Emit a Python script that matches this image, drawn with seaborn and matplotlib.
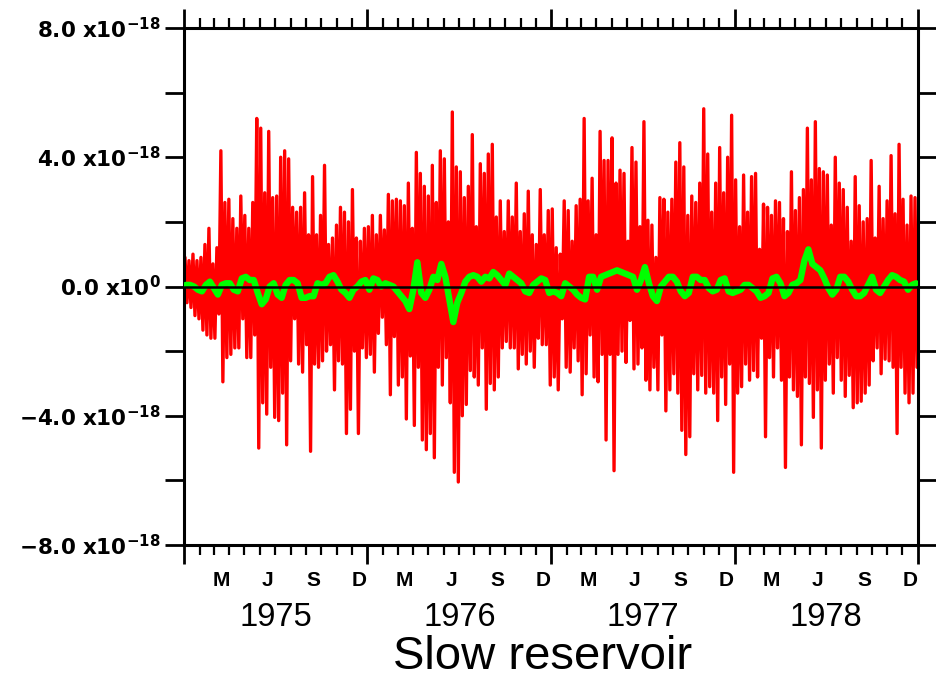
import numpy as np
import pandas as pd
import matplotlib
matplotlib.use("Agg")
import matplotlib.pyplot as plt
import matplotlib.dates as mdates
import matplotlib.transforms as mtransforms
from matplotlib.ticker import FixedLocator, FuncFormatter, NullFormatter
import seaborn as sns

# ---------------- data (units of 1e-18) ----------------
years = [1975, 1976, 1977, 1978]

# red: daily series, summarised as one peak and one trough per ~8-day block (46 blocks / year)
red_hi_1975 = [0.9, 0.8, 1.0, 0.8, 0.9, 1.3, 1.8, 0.7, 1.2, 4.2, 2.6, 2.7, 2.1, 1.8, 2.8, 2.2,
               1.8, 2.6, 5.2, 4.9, 2.9, 4.8, 2.75, 2.8, 4.0, 4.2, 3.95, 2.45, 2.3, 2.45, 2.9, 1.6,
               3.4, 1.6, 2.2, 3.75, 1.3, 1.5, 1.9, 2.45, 2.3, 2.0, 3.0, 1.5, 1.4, 1.8]
red_lo_1975 = [-0.5, -0.65, -0.9, -1.0, -1.35, -1.5, -1.6, -1.6, -0.85, -2.95, -2.2, -2.1, -1.9,
               -1.9, -1.0, -2.2, -2.2, -1.5, -5.0, -3.6, -3.95, -2.5, -4.05, -4.15, -3.3, -4.9,
               -2.3, -1.0, -2.4, -2.65, -1.8, -5.1, -2.4, -2.5, -2.3, -2.0, -1.8, -3.2, -2.3,
               -2.4, -4.55, -3.8, -2.0, -4.55, -1.9, -2.2]
red_hi_1976 = [1.85, 2.2, 1.6, 2.2, 1.75, 2.85, 2.65, 2.7, 2.65, 2.5, 3.2, 1.8, 4.15, 3.5, 3.1,
               2.8, 3.75, 2.6, 4.2, 3.95, 2.0, 5.4, 3.7, 3.55, 2.75, 3.1, 4.7, 1.85, 3.8, 3.5,
               4.1, 4.4, 2.15, 2.65, 1.7, 2.65, 2.15, 3.2, 1.7, 2.25, 2.95, 1.6, 1.3, 3.0, 1.6, 2.35]
red_lo_1976 = [-2.1, -2.65, -1.45, -0.95, -1.8, -3.35, -1.55, -3.05, -2.8, -4.1, -2.15, -4.3,
               -2.5, -4.75, -5.05, -4.55, -5.3, -2.5, -3.05, -2.2, -3.6, -5.75, -6.05, -4.0,
               -3.65, -2.6, -2.8, -3.05, -1.9, -3.8, -3.0, -3.2, -2.8, -1.9, -1.7, -1.9, -1.9,
               -2.55, -2.1, -2.4, -2.0, -2.5, -1.6, -1.8, -1.8, -3.05]
red_hi_1977 = [2.4, 1.2, 1.0, 2.65, 2.35, 1.4, 2.5, 2.7, 5.2, 2.65, 3.35, 1.6, 4.8, 3.9, 3.9,
               4.6, 3.2, 3.6, 3.5, 1.4, 4.3, 3.85, 1.85, 5.1, 2.05, 1.9, 0.9, 2.75, 2.7, 2.3,
               2.7, 3.85, 4.45, 3.7, 2.2, 2.8, 2.6, 3.2, 5.5, 4.1, 2.3, 3.2, 4.3, 2.9, 4.0, 5.3]
red_lo_1977 = [-2.8, -3.2, -1.0, -2.5, -2.65, -1.9, -2.3, -3.35, -2.7, -1.5, -2.8, -2.95, -2.1,
               -4.75, -2.1, -5.7, -2.1, -2.0, -2.35, -1.05, -2.55, -2.4, -1.9, -2.9, -3.2, -2.5,
               -3.2, -1.5, -3.85, -3.2, -2.7, -3.3, -4.45, -5.2, -4.65, -2.7, -3.2, -2.75, -3.3,
               -3.1, -3.3, -4.15, -2.8, -3.65, -2.4, -5.75]
red_hi_1978 = [3.3, 1.85, 3.45, 2.3, 3.4, 3.5, 1.15, 2.55, 2.45, 2.2, 2.65, 2.6, 2.1, 1.7, 3.55,
               2.35, 2.75, 3.0, 4.9, 3.3, 5.1, 3.65, 3.55, 3.45, 1.9, 4.0, 3.2, 3.0, 2.45, 1.4,
               3.4, 2.5, 2.0, 2.1, 3.9, 1.5, 3.1, 2.1, 2.65, 4.05, 2.25, 4.4, 2.7, 1.9, 2.8, 2.75]
red_lo_1978 = [-3.3, -3.1, -2.4, -2.9, -2.6, -2.8, -1.6, -4.65, -2.2, -2.8, -1.9, -2.9, -5.6,
               -2.8, -3.2, -3.4, -4.9, -2.8, -3.0, -4.05, -3.2, -5.0, -2.9, -2.4, -3.3, -2.2,
               -2.9, -3.4, -2.75, -3.75, -3.6, -3.55, -3.3, -3.05, -2.3, -1.9, -2.7, -2.25,
               -2.3, -2.5, -4.55, -2.5, -3.3, -3.6, -3.3, -2.5]

# green: smoothed series, one value per ~8-day block
green_1975 = [0.05, 0.05, 0.0, -0.1, -0.15, 0.05, 0.15, -0.05, -0.25, 0.05, 0.1, 0.1, -0.1, -0.15,
              0.25, 0.3, 0.2, 0.2, -0.2, -0.55, -0.4, 0.0, 0.1, -0.25, -0.35, 0.05, 0.2, 0.2,
              0.1, -0.35, -0.35, -0.3, -0.3, 0.1, 0.05, 0.1, 0.3, 0.35, 0.15, -0.1, -0.2, -0.35,
              -0.1, 0.0, 0.15, 0.2]
green_1976 = [-0.1, 0.25, 0.2, 0.0, 0.1, 0.05, 0.0, -0.15, -0.3, -0.45, -0.7, -0.1, 0.75, -0.2,
              -0.35, -0.1, 0.3, 0.2, 0.7, 0.3, -0.4, -1.1, -0.5, -0.2, 0.15, 0.3, 0.35, 0.3,
              0.15, 0.3, 0.25, 0.45, 0.35, 0.2, 0.05, 0.4, 0.3, 0.2, 0.1, -0.15, -0.2, 0.05,
              0.15, 0.25, 0.2, -0.2]
green_1977 = [-0.15, -0.2, -0.3, 0.1, 0.0, -0.1, -0.25, -0.35, -0.4, 0.3, 0.3, -0.1, 0.3, 0.35,
              0.4, 0.45, 0.5, 0.45, 0.4, 0.35, 0.3, -0.1, 0.2, 0.6, 0.1, -0.3, -0.45, 0.0, 0.15,
              0.3, 0.3, 0.15, -0.15, -0.3, -0.2, 0.3, 0.3, 0.2, 0.2, -0.05, -0.15, -0.1, 0.2,
              0.25, -0.15, -0.2]
green_1978 = [-0.15, -0.1, 0.05, 0.05, -0.05, -0.15, -0.35, -0.3, -0.2, 0.25, 0.3, 0.1, -0.3,
              -0.2, 0.05, 0.1, 0.2, 0.8, 1.15, 0.7, 0.6, 0.5, 0.25, -0.05, -0.25, -0.1, 0.3, 0.3,
              0.15, -0.1, -0.3, -0.3, -0.2, 0.05, 0.3, -0.1, -0.2, 0.0, 0.2, 0.35, 0.3, 0.2,
              0.15, -0.1, 0.05, 0.1]

month_letters = ["M", "J", "S", "D"]
month_numbers = [3, 6, 9, 12]
ytick_values = [-8, -6, -4, -2, 0, 2, 4, 6, 8]
caption = "Slow reservoir"

red_hi = [red_hi_1975, red_hi_1976, red_hi_1977, red_hi_1978]
red_lo = [red_lo_1975, red_lo_1976, red_lo_1977, red_lo_1978]
greens = [green_1975, green_1976, green_1977, green_1978]

# ---------------- build tables ----------------
red_rows, green_rows = [], []
for yr, hi, lo, gr in zip(years, red_hi, red_lo, greens):
    start = pd.Timestamp(f"{yr}-01-01")
    ndays = (pd.Timestamp(f"{yr + 1}-01-01") - start).days
    n = len(hi)
    for k in range(n):
        red_rows.append((start + pd.Timedelta(days=(k + 0.25) * ndays / n), hi[k]))
        red_rows.append((start + pd.Timedelta(days=(k + 0.75) * ndays / n), lo[k]))
        green_rows.append((start + pd.Timedelta(days=(k + 0.5) * ndays / n), gr[k]))
red_df = pd.DataFrame(red_rows, columns=["date", "value"])
green_df = pd.DataFrame(green_rows, columns=["date", "value"])

# ---------------- plot ----------------
sns.set_style("ticks")
plt.rcParams["font.family"] = ["Liberation Sans", "DejaVu Sans"]
plt.rcParams["mathtext.fontset"] = "custom"
plt.rcParams["mathtext.rm"] = "DejaVu Sans"
plt.rcParams["mathtext.bf"] = "DejaVu Sans:bold"
for key in ["text.color", "axes.labelcolor", "xtick.color", "ytick.color", "axes.edgecolor"]:
    plt.rcParams[key] = "black"

fig = plt.figure(figsize=(9.36, 6.8), dpi=100)
ax = fig.add_axes([184 / 936, 1 - 545 / 680, (918 - 184) / 936, (545 - 28) / 680])

sns.lineplot(data=red_df, x="date", y="value", ax=ax, color="#ff0000", lw=2.4,
             estimator=None, sort=False, zorder=2)
sns.lineplot(data=green_df, x="date", y="value", ax=ax, color="#00ff00", lw=4.6,
             estimator=None, sort=False, zorder=3)
ax.axhline(0, color="black", lw=1.8, zorder=4)

ax.set_xlim(pd.Timestamp("1975-01-01"), pd.Timestamp("1979-01-01"))
ax.set_ylim(-8, 8)
ax.set_xlabel("")
ax.set_ylabel("")

ax.xaxis.set_major_locator(mdates.YearLocator())
ax.xaxis.set_minor_locator(mdates.MonthLocator())
ax.xaxis.set_major_formatter(NullFormatter())
ax.xaxis.set_minor_formatter(NullFormatter())

ax.yaxis.set_major_locator(FixedLocator(ytick_values))


def ylab(v, pos):
    if v == 0:
        return r"$\mathbf{0.0\ x10^{0}}$"
    if abs(v) % 4 != 0:
        return ""
    s = f"{abs(v):.1f}"
    sign = "-" if v < 0 else ""
    return r"$\mathbf{" + sign + s + r"\ x10^{-18}}$"


ax.yaxis.set_major_formatter(FuncFormatter(ylab))

for side in ["left", "right", "top", "bottom"]:
    ax.spines[side].set_linewidth(2.2)
    ax.spines[side].set_visible(True)

ax.tick_params(axis="both", which="both", direction="out", top=True, right=True,
               colors="black")
ax.tick_params(axis="x", which="major", length=14, width=2.0)
ax.tick_params(axis="x", which="minor", length=7, width=1.6)
ax.tick_params(axis="y", which="major", length=13.5, width=2.0, labelsize=15.5, pad=3)

trans = mtransforms.blended_transform_factory(ax.transData, ax.transAxes)
for yr in years:
    for letter, m in zip(month_letters, month_numbers):
        xm = mdates.date2num(pd.Timestamp(year=yr, month=m, day=15) + pd.Timedelta(hours=12))
        ax.text(xm, -0.068, letter, transform=trans, ha="center", va="center",
                fontsize=15, fontweight="bold", family="Liberation Sans")
    xy = mdates.date2num(pd.Timestamp(year=yr, month=7, day=2))
    ax.text(xy, -0.14, str(yr), transform=trans, ha="center", va="center",
            fontsize=23.5, family="Liberation Sans")

fig.text(543 / 936, 1 - 657 / 680, caption, ha="center", va="center",
         fontsize=34, family="Liberation Sans")

fig.savefig("out.png", dpi=100)
